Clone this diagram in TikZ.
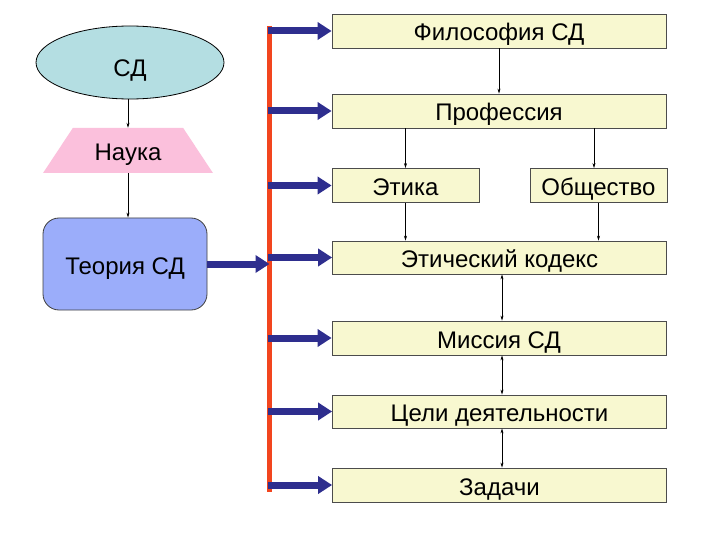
\documentclass[tikz,border=0pt]{standalone}
\usepackage{fontspec}
\setmainfont{Liberation Sans}
\usetikzlibrary{shapes.geometric,arrows.meta}
\definecolor{cyanfill}{HTML}{B4DEE2}
\definecolor{pinkfill}{HTML}{FBC0DC}
\definecolor{theofill}{HTML}{9BADFA}
\definecolor{yellfill}{HTML}{F8F8D0}
\definecolor{bluearr}{HTML}{2E2E8E}
\definecolor{redline}{HTML}{F2451E}
\begin{document}
\begin{tikzpicture}[x=1pt,y=-1pt,
  txt/.style={font=\fontsize{24}{28}\selectfont, text=black, text height=20pt, text depth=0pt},
  ybox/.style={txt, draw=black!70, line width=0.8pt, fill=yellfill, minimum height=34pt, inner sep=0pt},
  widebox/.style={ybox, minimum width=334pt},
  bigarrow/.style={bluearr, line width=7pt, -{Triangle[length=14pt,width=17pt]}},
  thinarr/.style={black, line width=0.6pt, -{Stealth[length=5pt,width=3pt]}},
  thinboth/.style={black, line width=0.6pt, {Stealth[length=5pt,width=3pt]}-{Stealth[length=5pt,width=3pt]}}
]
\useasboundingbox (0,0) rectangle (720,540);
\fill[white] (0,0) rectangle (720,540);

% left column
\node[txt, text height=29pt, ellipse, draw=black, line width=0.8pt, fill=cyanfill, minimum width=188pt, minimum height=73pt, inner sep=0pt] (sd) at (130,62.5) {СД};
\node[txt, trapezium, trapezium stretches=true, trapezium left angle=48, trapezium right angle=48, fill=pinkfill, draw=none, minimum width=170pt, minimum height=45pt, inner sep=0pt] (nauka) at (128,150.5) {Наука};
\node[txt, draw=black!75, line width=0.8pt, fill=theofill, rounded corners=16pt, minimum width=164pt, minimum height=92pt, inner sep=0pt] (theo) at (125,264) {Теория СД};

\draw[thinarr] (sd.south -| nauka.north) -- (nauka.north);
\draw[thinarr] (nauka.south) -- (theo.north -| nauka.south);

% right column
\node[widebox] (phil) at (499,31) {Философия СД};
\node[widebox] (prof) at (499,111) {Профессия};
\node[ybox, minimum width=147pt] (eth) at (405.5,185.5) {Этика};
\node[ybox, minimum width=137pt] (soc) at (598.5,185.5) {Общество};
\node[widebox, minimum height=33pt] (code) at (499.5,257.5) {Этический кодекс};
\node[widebox] (miss) at (499,338) {Миссия СД};
\node[widebox, minimum height=33pt] (goal) at (499.5,411.5) {Цели деятельности};
\node[widebox] (task) at (499.5,485) {Задачи};

\draw[thinarr] (phil.south) -- (prof.north);
\draw[thinarr] (prof.south -| eth.north) -- (eth.north);
\draw[thinarr] (prof.south -| 594,0) -- (soc.north -| 594,0);
\draw[thinarr] (eth.south) -- (code.north -| eth.south);
\draw[thinarr] (soc.south) -- (code.north -| soc.south);
\draw[thinboth] (code.south -| 502,0) -- (miss.north -| 502,0);
\draw[thinboth] (miss.south -| 502,0) -- (goal.north -| 502,0);
\draw[thinboth] (goal.south -| 502,0) -- (task.north -| 502,0);

% red bus line
\coordinate (rtop) at (269.5,26);
\coordinate (rbot) at (269.5,492);
\draw[redline, line width=4.5pt] (rtop) -- (rbot);

% blue arrows
\foreach \n in {phil,prof,eth,code,miss,goal,task}{
  \coordinate (s\n) at (rtop |- \n.west);
  \draw[bigarrow] ([xshift=-2pt]s\n) -- (\n.west);
}
\coordinate (stheo) at (rtop |- theo.east);
\draw[bigarrow] (theo.east) -- (stheo);
\end{tikzpicture}
\end{document}
